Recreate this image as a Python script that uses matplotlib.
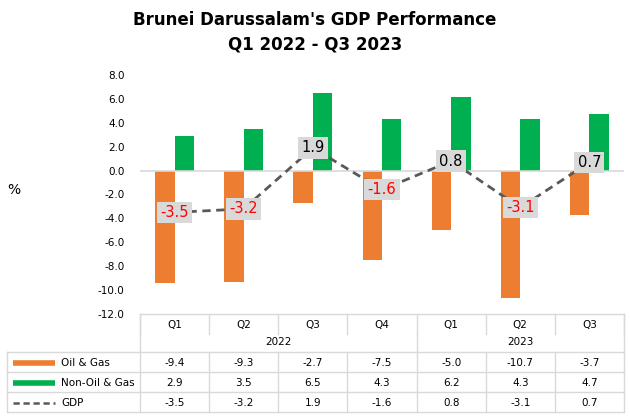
import numpy as np
import matplotlib.pyplot as plt
from matplotlib.lines import Line2D

plt.rcParams['font.family'] = ['DejaVu Sans']

quarters = ["Q1", "Q2", "Q3", "Q4", "Q1", "Q2", "Q3"]
years = ["2022", "2023"]
year_spans = [4, 3]
oil_gas = [-9.4, -9.3, -2.7, -7.5, -5.0, -10.7, -3.7]
non_oil_gas = [2.9, 3.5, 6.5, 4.3, 6.2, 4.3, 4.7]
gdp = [-3.5, -3.2, 1.9, -1.6, 0.8, -3.1, 0.7]

ORANGE = "#ED7D31"
GREEN = "#00B050"
LINE_GRAY = "#595959"
GRID = "#D9D9D9"

W, H = 630, 420
fig = plt.figure(figsize=(6.3, 4.2), dpi=100)


def fx(px):
    return px / W


def fy(py):
    return 1 - py / H


# plot area in pixels
left, right, top, bottom = 140, 624, 75, 314
ax = fig.add_axes([fx(left), fy(bottom), fx(right - left), (bottom - top) / H])

x = np.arange(len(quarters))
bw = 0.28
ax.bar(x - bw / 2, oil_gas, bw, color=ORANGE, label="Oil & Gas")
ax.bar(x + bw / 2, non_oil_gas, bw, color=GREEN, label="Non-Oil & Gas")
ax.axhline(0, color=GRID, lw=1.2, zorder=1)
ax.plot(x, gdp, color=LINE_GRAY, lw=2, ls=(0, (3, 2)), zorder=3, label="GDP")
for xi, v in zip(x, gdp):
    ax.text(xi, v, f"{v:.1f}", ha="center", va="center", fontsize=10.5,
            color="#FF0000" if v < 0 else "black", zorder=4,
            bbox=dict(boxstyle="square,pad=0.22", fc="#D9D9D9", ec="none"))

ax.set_xlim(-0.5, len(quarters) - 0.5)
ax.set_ylim(-12, 8)
ax.set_yticks(np.arange(-12, 9, 2))
ax.set_yticklabels([f"{t:.1f}" for t in np.arange(-12, 9, 2)], fontsize=7.5)
ax.tick_params(axis="y", length=0, pad=11)
ax.set_xticks([])
for s in ax.spines.values():
    s.set_visible(False)

fig.text(fx(14), fy(190), "%", fontsize=10, ha="center", va="center")

fig.text(0.5, fy(20), "Brunei Darussalam's GDP Performance", fontsize=12,
         fontweight="bold", ha="center", va="center")
fig.text(0.5, fy(44), "Q1 2022 - Q3 2023", fontsize=12,
         fontweight="bold", ha="center", va="center")


# data table below the plot
def hline(x0, x1, y):
    fig.add_artist(Line2D([fx(x0), fx(x1)], [fy(y), fy(y)], color=GRID, lw=1))


def vline(xp, y0, y1):
    fig.add_artist(Line2D([fx(xp), fx(xp)], [fy(y0), fy(y1)], color=GRID, lw=1))


col_w = (right - left) / len(quarters)
tab_left = 7
row_top, row_q, row_year = 314, 334, 352
row_h = 20
rows_y = [row_year + i * row_h for i in range(4)]

hline(left, right, row_top)
for r in rows_y:
    hline(tab_left, right, r)
for i in range(len(quarters) + 1):
    vline(left + i * col_w, row_top, row_q)
vline(left, row_top, rows_y[-1])
vline(right, row_top, rows_y[-1])
vline(tab_left, rows_y[0], rows_y[-1])
for i in range(1, len(quarters)):
    vline(left + i * col_w, rows_y[0], rows_y[-1])
vline(left + year_spans[0] * col_w, row_q, row_year)

for i, q in enumerate(quarters):
    fig.text(fx(left + (i + 0.5) * col_w), fy(325), q,
             fontsize=7.5, ha="center", va="center")
start = 0
for yr, span in zip(years, year_spans):
    fig.text(fx(left + (start + span / 2) * col_w), fy(342),
             yr, fontsize=7.5, ha="center", va="center")
    start += span

series = [("Oil & Gas", oil_gas, ORANGE, "-"),
          ("Non-Oil & Gas", non_oil_gas, GREEN, "-"),
          ("GDP", gdp, LINE_GRAY, (0, (2.5, 1.5)))]
for k, (name, vals, col, ls) in enumerate(series):
    yc = rows_y[k] + row_h / 2 + 1
    lw = 4 if ls == "-" else 1.8
    fig.add_artist(Line2D([fx(13), fx(55)], [fy(yc), fy(yc)], color=col, lw=lw,
                          ls=ls, solid_capstyle="butt"))
    fig.text(fx(61), fy(yc), name, fontsize=7.5, ha="left", va="center")
    for i, v in enumerate(vals):
        fig.text(fx(left + (i + 0.5) * col_w), fy(yc), f"{v:.1f}",
                 fontsize=7.5, ha="center", va="center")

fig.savefig("out.png", dpi=100)
